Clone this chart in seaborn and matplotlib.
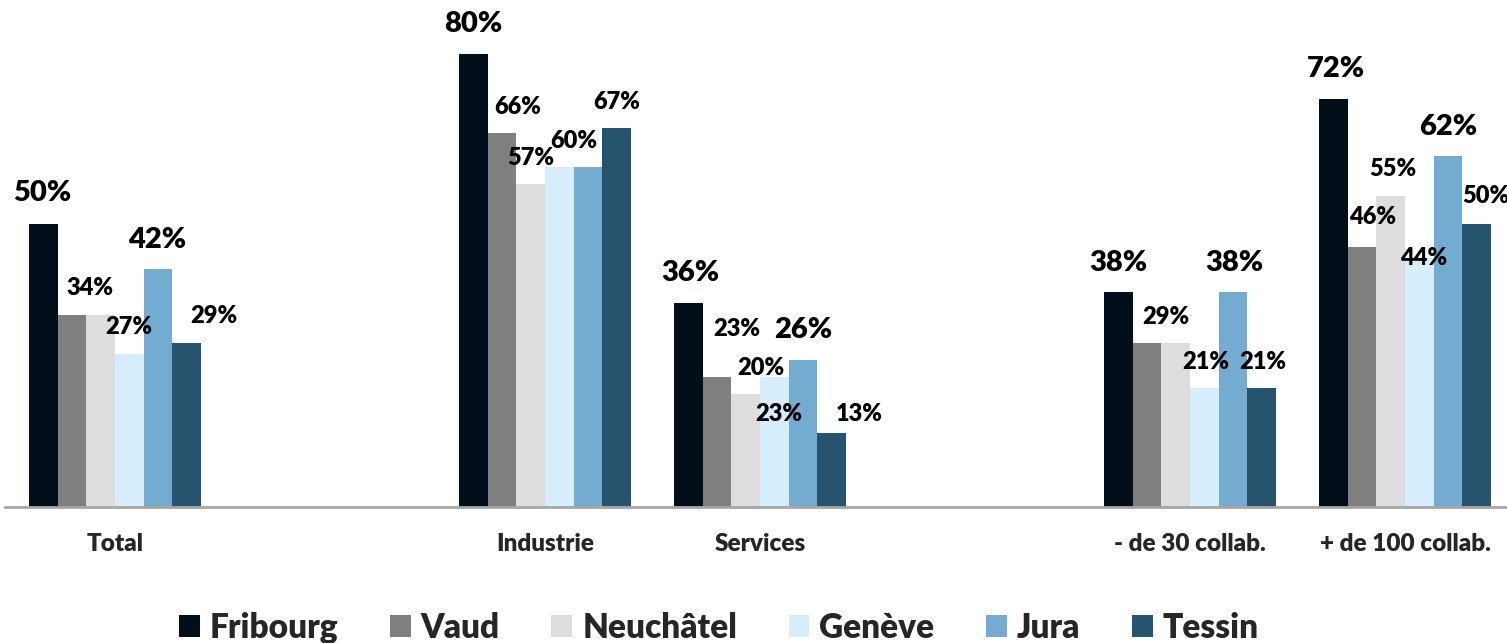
import numpy as np
import pandas as pd
import seaborn as sns
import matplotlib.pyplot as plt

# data (percent); blank slots are empty columns in the original
categories = ["Total", " ", "Industrie", "Services", "  ", "- de 30 collab.", "+ de 100 collab."]
regions = ["Fribourg", "Vaud", "Neuchâtel", "Genève", "Jura", "Tessin"]

fribourg = [50, np.nan, 80, 36, np.nan, 38, 72]
vaud = [34, np.nan, 66, 23, np.nan, 29, 46]
neuchatel = [34, np.nan, 57, 20, np.nan, 29, 55]
geneve = [27, np.nan, 60, 23, np.nan, 21, 44]
jura = [42, np.nan, 60, 26, np.nan, 38, 62]
tessin = [29, np.nan, 67, 13, np.nan, 21, 50]

colors = ["#020f1a", "#7f7f7f", "#dddddd", "#d6eefc", "#74acd1", "#26546f"]

# label placement (pixel offset from the bar top, big font?) - None = no label shown
label_style = {
    "Total": [(-1, 31, True), (18, 27, False), None, (-1, 27, False), (-1, 29, True), (27, 27, False)],
    "Industrie": [(0, 30, True), (16, 26, False), (0, 26, False), (14, 26, False), None, (0, 26, False)],
    "Services": [(2, 30, True), (20, 48, False), (15, 26, False), (4, -37, False), (0, 30, True), (28, 19, False)],
    "- de 30 collab.": [(0, 29, True), (19, 26, False), None, (1, 26, False), (1, 29, True), (1, 26, False)],
    "+ de 100 collab.": [(3, 30, True), (11, 30, False), (2, 27, False), (4, 0, False), (0, 29, True), (9, 28, False)],
}

series = [fribourg, vaud, neuchatel, geneve, jura, tessin]
rows = []
for reg, vals in zip(regions, series):
    for cat, v in zip(categories, vals):
        rows.append({"cat": cat, "region": reg, "val": v})
df = pd.DataFrame(rows)

sns.set_theme(style="white")
plt.rcParams["font.family"] = ["Lato", "DejaVu Sans"]
plt.rcParams["font.weight"] = "heavy"

fig = plt.figure(figsize=(15.07, 6.43), dpi=100)
ax = fig.add_axes([5 / 1507, 136 / 643, 1502 / 1507, 507 / 643])

sns.barplot(data=df, x="cat", y="val", hue="region", order=categories,
            hue_order=regions, palette=colors, width=0.8, gap=0,
            saturation=1, linewidth=0, ax=ax)

ax.set_xlim(-110 / 215, 1392 / 215)
ax.set_ylim(0, 507 / 5.66)
ax.set_xlabel("")
ax.set_ylabel("")
ax.set_yticks([])
for s in ["left", "right", "top"]:
    ax.spines[s].set_visible(False)
ax.spines["bottom"].set_color("#a6a6a6")
ax.spines["bottom"].set_linewidth(2)
ax.tick_params(axis="x", length=0, pad=19, labelsize=17.5)
for t in ax.get_xticklabels():
    t.set_fontweight("heavy")

# value labels
for j, cont in enumerate(ax.containers):
    for p in cont.patches:
        h = p.get_height()
        if np.isnan(h) or h == 0:
            continue
        ci = int(round(p.get_x() + p.get_width() / 2))
        st = label_style.get(categories[ci])
        if st is None or st[j] is None:
            continue
        dx, dy, big = st[j]
        ax.annotate(f"{h:.0f}%", (p.get_x() + p.get_width() / 2, h),
                    xytext=(dx, dy), textcoords="offset pixels",
                    ha="center", va="center", fontweight="heavy",
                    fontsize=21 if big else 17, color="black")

handles, labels = ax.get_legend_handles_labels()
ax.get_legend().remove()
fig.legend(handles, labels, loc="center", bbox_to_anchor=(0.477, 0.024),
           ncol=6, frameon=False, handlelength=0.62,
           handleheight=0.62, handletextpad=0.3, columnspacing=1.55,
           prop={"weight": "heavy", "size": 24})

fig.savefig("out.png", dpi=100)
